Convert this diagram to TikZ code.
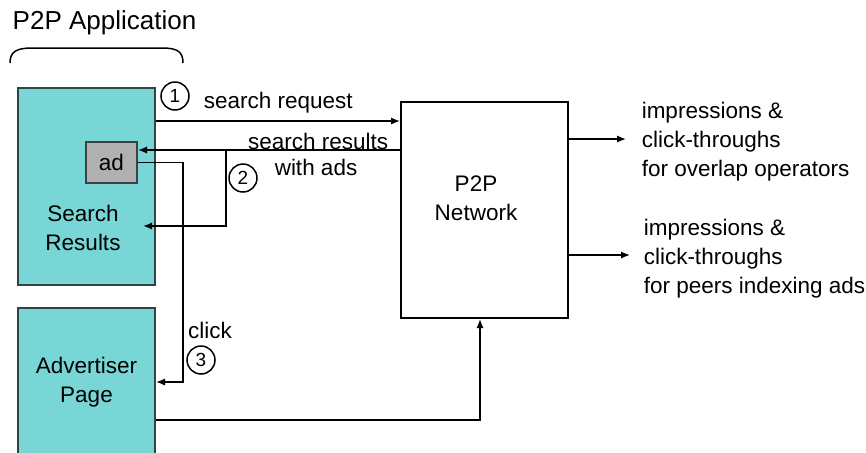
\documentclass[tikz,border=0pt]{standalone}
\usepackage{fontspec}
\setmainfont{Liberation Sans}
\usetikzlibrary{arrows.meta}
\definecolor{appcyan}{HTML}{79D6D6}
\definecolor{adgray}{HTML}{B0B0B0}
\definecolor{boxedge}{HTML}{2E4545}

\begin{document}
\begin{tikzpicture}[x=0.5pt,y=-0.5pt,>={Latex[length=4.5pt,width=3.6pt]},line width=0.75pt,
    font=\fontsize{11.25}{14.5}\selectfont]
            \tikzset{appbox/.style={draw=boxedge,line width=1pt,fill=appcyan,minimum width=68.5pt,inner sep=0pt,align=center}};
            \tikzset{numcirc/.style={draw,circle,minimum size=14pt,inner sep=0pt,font=\fontsize{9.5}{9.5}\selectfont}};
            \tikzset{txt/.style={inner sep=0pt,align=left}};
            \useasboundingbox (0,0) rectangle (866,452);

            % boxes
            \node[appbox,minimum height=98.5pt] (search) at (86.5,186.5) {};
            \node[align=center,inner sep=0pt] (searchtxt) at (83,228) {Search\\Results};
            \node[appbox,minimum width=25.5pt,minimum height=20.5pt,fill=adgray,draw=black!75] (ad) at (111.5,162.5) {ad};
            \node[appbox,minimum height=74pt] (adv) at (86.5,382) {Advertiser\\Page};
            \node[draw,line width=1pt,minimum width=83.5pt,minimum height=108pt] (net) at (484.5,210) {};
            \node[align=center,inner sep=0pt] (nettxt) at (476,198) {P2P\\Network};

            % title and brace
            \node[txt,anchor=west,font=\fontsize{13}{15}\selectfont] (app) at (12,23) {P2P Application};
            \draw (10,63) .. controls (10,52) and (16,48) .. (32,48) -- (162,48)
                .. controls (178,48) and (183,52) .. (183,63);

            % step 1
            \coordinate (reqy) at (0,121);
            \draw[->] (search.east |- reqy) -- (net.west |- reqy);
            \node[numcirc] (c1) at (175,96) {1};
            \node[txt,anchor=west] (req) at (203,103) {search request};

            % step 2
            \coordinate (resy) at (226,150);
            \coordinate (srtip) at (143,226);
            \draw[->] (net.west |- resy) -- (ad.east |- resy);
            \draw[->] (resy) |- (srtip);
            \node[txt,anchor=east] (res) at (389,141) {search results};
            \node[txt,anchor=west] (res2) at (274,167) {with ads};
            \node[numcirc] (c2) at (243,178) {2};

            % step 3
            \coordinate (clk) at (183,382);
            \draw[->] (ad.east) -| (clk) -- (adv.east);
            \node[txt] (click) at (210,330) {click};
            \node[numcirc] (c3) at (201,360) {3};

            % advertiser page feeds the network
            \coordinate (feed) at (480,420);
            \draw[->] (adv.east |- feed) -- (feed) -- (net.south -| feed);

            % outputs
            \node[txt,anchor=west] (imp1) at (641,142) {impressions \&\\click-throughs\\for overlap operators};
            \node[txt,anchor=west] (imp2) at (643,259) {impressions \&\\click-throughs\\for peers indexing ads};
            \draw[->] (net.east |- 0,139) -- ++(57,0);
            \draw[->] (net.east |- 0,255) -- ++(61,0);
\end{tikzpicture}
\end{document}
